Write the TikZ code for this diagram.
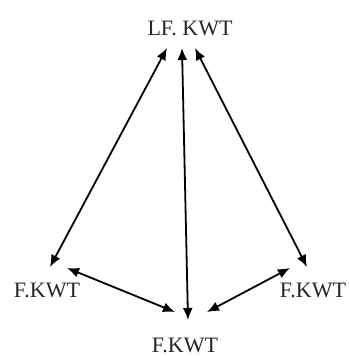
\documentclass[tikz,border=0pt]{standalone}
\usepackage{fontspec}
\setmainfont{Liberation Serif}
\usetikzlibrary{arrows.meta}
\begin{document}
\begin{tikzpicture}[x=1pt,y=-1pt,
  lbl/.style={inner sep=0pt,anchor=base,font=\fontsize{22}{22}\selectfont,text=black!85},
  biarrow/.style={line width=1.8pt,{Latex[length=12pt,width=10pt]}-{Latex[length=12pt,width=10pt]}}]
\useasboundingbox (0,0) rectangle (348,356);
\node[lbl] (top) at (190,35) {LF. KWT};
\node[lbl] (left) at (47,297) {F.KWT};
\node[lbl] (right) at (313,297) {F.KWT};
\node[lbl] (bot) at (185,352) {F.KWT};
\coordinate (tl) at (167,48);
\coordinate (tm) at (182,48);
\coordinate (tr) at (195,48);
\coordinate (lu) at (50,267);
\coordinate (lr) at (67,268);
\coordinate (bm) at (188,320);
\coordinate (bl) at (175,312);
\coordinate (br) at (207,312);
\coordinate (rl) at (290,268);
\coordinate (ru) at (307,267);
\draw[biarrow] (tl) -- (lu);
\draw[biarrow] (tm) -- (bm);
\draw[biarrow] (tr) -- (ru);
\draw[biarrow] (lr) -- (bl);
\draw[biarrow] (rl) -- (br);
\end{tikzpicture}
\end{document}
